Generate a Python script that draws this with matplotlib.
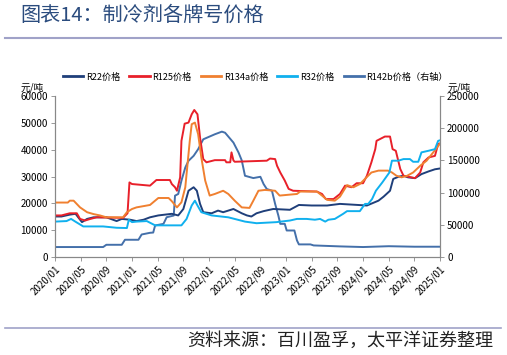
import matplotlib.pyplot as plt
from matplotlib.lines import Line2D

plt.rcParams['font.family'] = ['Noto Sans CJK SC', 'DejaVu Sans']

# months since 2020/01
tick_labels = ["2020/01", "2020/05", "2020/09", "2021/01", "2021/05", "2021/09",
               "2022/01", "2022/05", "2022/09", "2023/01", "2023/05", "2023/09",
               "2024/01", "2024/05", "2024/09", "2025/01"]

r22_t = [0, 1, 2.3, 3.2, 4.2, 5, 6, 8, 9.6, 10.4, 11.7, 12.7, 13.8, 14.8, 16.1, 18.2,
         19.2, 20, 20.8, 21.6, 22.1, 22.6, 23.1, 24.4, 25.4, 26.2, 27.8, 29.1, 29.9,
         30.6, 31.4, 32.5, 34.0, 36.6, 38.0, 40.0, 42.4, 44.4, 48.6, 49.4, 50.4, 51.2,
         52.2, 52.7, 53.5, 54.3, 55.0, 56.1, 57.1, 58.2, 59.2, 60]
r22_v = [15100, 15100, 15800, 16100, 13000, 14200, 14800, 14800, 13400, 14200, 13900,
         13400, 13900, 14800, 15500, 16100, 15500, 17900, 24700, 26000, 24700, 19800,
         16700, 16300, 17300, 16700, 17900, 16300, 15500, 15100, 16300, 17100, 17900,
         17600, 19400, 19200, 19200, 19800, 19200, 20000, 21000, 22500, 24700, 29100,
         29900, 30300, 29700, 29400, 30900, 31900, 32700, 33000]

r125_t = [0, 1, 2.3, 3.4, 3.9, 4.7, 5.5, 6.5, 10.6, 11.3, 11.6, 12, 14.8, 15.8, 17.9,
          18.2, 18.7, 19, 19.5, 19.7, 20.2, 20.8, 21.3, 21.7, 22.2, 22.6, 23.1, 23.6,
          24.9, 26.5, 26.7, 27.3, 27.5, 27.8, 28, 33, 33.5, 34.3, 34.6, 35.1, 35.8,
          36.4, 37.1, 40.8, 41.6, 42.2, 43.4, 44.4, 45.2, 46.2, 47, 48, 48.6, 49.3,
          49.9, 50.1, 51.4, 52.2, 52.6, 53.1, 53.8, 54.3, 56.1, 56.9, 57.4, 58.2, 59.2,
          59.7, 60]
r125_v = [15500, 15500, 16300, 16300, 14200, 13600, 14200, 14800, 14600, 16300, 27800,
          27200, 26600, 28700, 28700, 27200, 26000, 24700, 29700, 43300, 49700, 50100,
          53200, 54800, 53200, 44500, 36500, 35300, 36100, 36100, 35300, 35300, 39000,
          36000, 35500, 35900, 36700, 36500, 34000, 31500, 28500, 25400, 24700, 24400,
          23500, 21600, 21600, 23500, 26600, 26000, 27500, 27500, 30300, 35300, 40200,
          43300, 44900, 44900, 40200, 39600, 32800, 30300, 29400, 31500, 35300, 37100,
          37700, 42100, 42300]

r134a_t = [0, 2, 2.3, 2.9, 3.9, 5, 6, 7, 8, 10.6, 11.2, 12, 12.7, 14.8, 16.1, 17.7,
           18.2, 19, 19.7, 20.3, 21.0, 21.3, 21.8, 22.3, 22.8, 23.4, 24.1, 24.9, 26.2,
           27, 28, 29.1, 30.3, 30.9, 31.7, 32.7, 34.3, 35, 37.7, 38.2, 40.8, 41.6, 42.4,
           43.6, 44.4, 45.5, 46.5, 47.5, 48.3, 49.3, 50.4, 51.9, 52.5, 53.2, 54.0, 54.8,
           55.8, 56.9, 57.9, 59.2, 60]
r134a_v = [20300, 20300, 21000, 21000, 18500, 16700, 16000, 15500, 14800, 14800, 16700,
           17900, 18500, 19400, 22000, 22000, 20800, 18500, 20400, 26000, 43300, 49500,
           50100, 45800, 37100, 28500, 22900, 23500, 24700, 23500, 21000, 18500, 18300,
           21000, 24700, 25000, 24700, 22900, 23500, 24400, 24400, 22900, 21300, 21000,
           22500, 26800, 26000, 27200, 29100, 31500, 32200, 32200, 31500, 30300, 29700,
           30200, 31500, 34000, 35900, 39800, 42300]

r32_t = [0, 1.8, 2.5, 3.3, 4.4, 7.5, 9.6, 11.2, 11.5, 12, 12.7, 14.3, 15.6, 19.7, 20.5,
         21.3, 21.8, 22.2, 22.8, 24.4, 27, 29.6, 31.4, 34.5, 36.6, 37.7, 39.2, 40.5,
         41.3, 42.1, 42.6, 43.6, 44.9, 45.5, 47.5, 48.3, 48.8, 49.4, 50, 51, 52.1, 52.5,
         53.5, 54.3, 55.3, 55.8, 56.6, 57.1, 58.2, 59.2, 59.7, 60]
r32_v = [13200, 13400, 14200, 13000, 11400, 11400, 10900, 10800, 13900, 13000, 13200,
         13400, 11800, 11800, 14200, 19200, 21000, 19200, 16700, 15500, 14800, 13200,
         12600, 13000, 13600, 14200, 14200, 13900, 14200, 13200, 13900, 14200, 16100,
         17100, 17100, 19800, 19800, 21600, 24700, 27800, 31500, 35900, 35900, 36500,
         36500, 35500, 35500, 39000, 39600, 40200, 43300, 43500]

# right axis
r142b_t = [0, 7.5, 8, 10.4, 10.9, 13, 13.5, 14.8, 15.3, 15.6, 16.9, 17.4, 18.5, 18.7,
           19.2, 19.7, 20.3, 20.8, 21.6, 22.3, 23.1, 24.9, 26, 26.5, 27.8, 28.6, 29.1,
           29.6, 30.9, 32, 32.5, 33, 33.8, 34.3, 34.8, 35.1, 35.8, 36.1, 37.3, 37.7, 38,
           39.8, 40.3, 44.4, 48, 52, 56, 60]
r142b_v = [15500, 15500, 19000, 19000, 26800, 26800, 35000, 37600, 38000, 49000, 51500,
           61800, 64400, 95300, 97900, 118500, 139000, 149400, 157100, 167400, 182800,
           190600, 194700, 193000, 177700, 162200, 150000, 126200, 122600, 124600,
           113300, 105600, 103000, 82400, 64400, 51500, 51500, 41200, 41200, 25800,
           19600, 19600, 18000, 16500, 15500, 16800, 16000, 16000]

fig = plt.figure(figsize=(5.07, 3.55), dpi=100)
ax = fig.add_axes([0.1085, 0.276, 0.7595, 0.4535])
ax2 = ax.twinx()

ax.plot(r22_t, r22_v, color="#1F3F7A", lw=1.4, label="R22价格")
ax.plot(r125_t, r125_v, color="#E8202A", lw=1.4, label="R125价格")
ax.plot(r134a_t, r134a_v, color="#F08030", lw=1.4, label="R134a价格")
ax.plot(r32_t, r32_v, color="#10B0EE", lw=1.4, label="R32价格")
ax2.plot(r142b_t, r142b_v, color="#4470AA", lw=1.4, label="R142b价格（右轴）")
ax.set_zorder(ax2.get_zorder() + 1)
ax.patch.set_visible(False)

ax.set_xlim(0, 60)
ax.set_ylim(0, 60000)
ax2.set_ylim(0, 250000)
ax.set_yticks(range(0, 60001, 10000))
ax2.set_yticks(range(0, 250001, 50000))
ax.set_xticks(range(0, 61, 4))
ax.set_xticklabels(tick_labels, rotation=45, ha="right", rotation_mode="anchor")

for a in (ax, ax2):
    a.spines["top"].set_visible(False)
    for s in ("left", "right", "bottom"):
        a.spines[s].set_color("#888888")
        a.spines[s].set_linewidth(0.8)
    a.tick_params(labelsize=7, length=3, width=0.6, color="#888888", pad=2)

ax.text(-0.06, 1.02, "元/吨", transform=ax.transAxes, fontsize=7, ha="center", va="bottom")
ax2.text(1.05, 1.02, "元/吨", transform=ax2.transAxes, fontsize=7, ha="center", va="bottom")

handles = [Line2D([], [], color=c, lw=2) for c in
           ("#1F3F7A", "#E8202A", "#F08030", "#10B0EE", "#4470AA")]
labels = ["R22价格", "R125价格", "R134a价格", "R32价格", "R142b价格（右轴）"]
fig.legend(handles, labels, loc="center", bbox_to_anchor=(0.504, 0.783), ncol=5,
           frameon=False, fontsize=6.6, handlelength=2.2, handletextpad=0.3,
           columnspacing=1.0)

fig.text(0.04, 0.957, "图表14：制冷剂各牌号价格", fontsize=14.5, color="#2B4C7E",
         ha="left", va="center")
fig.add_artist(Line2D([0.01, 0.988], [0.893, 0.893], color="#A0A2C8", lw=1.5))
fig.add_artist(Line2D([0.01, 0.988], [0.076, 0.076], color="#A0A2C8", lw=1.2))
fig.text(0.972, 0.04, "资料来源：百川盈孚，太平洋证券整理", fontsize=13, ha="right",
         va="center", color="#222222")

fig.savefig("out.png", dpi=100)
